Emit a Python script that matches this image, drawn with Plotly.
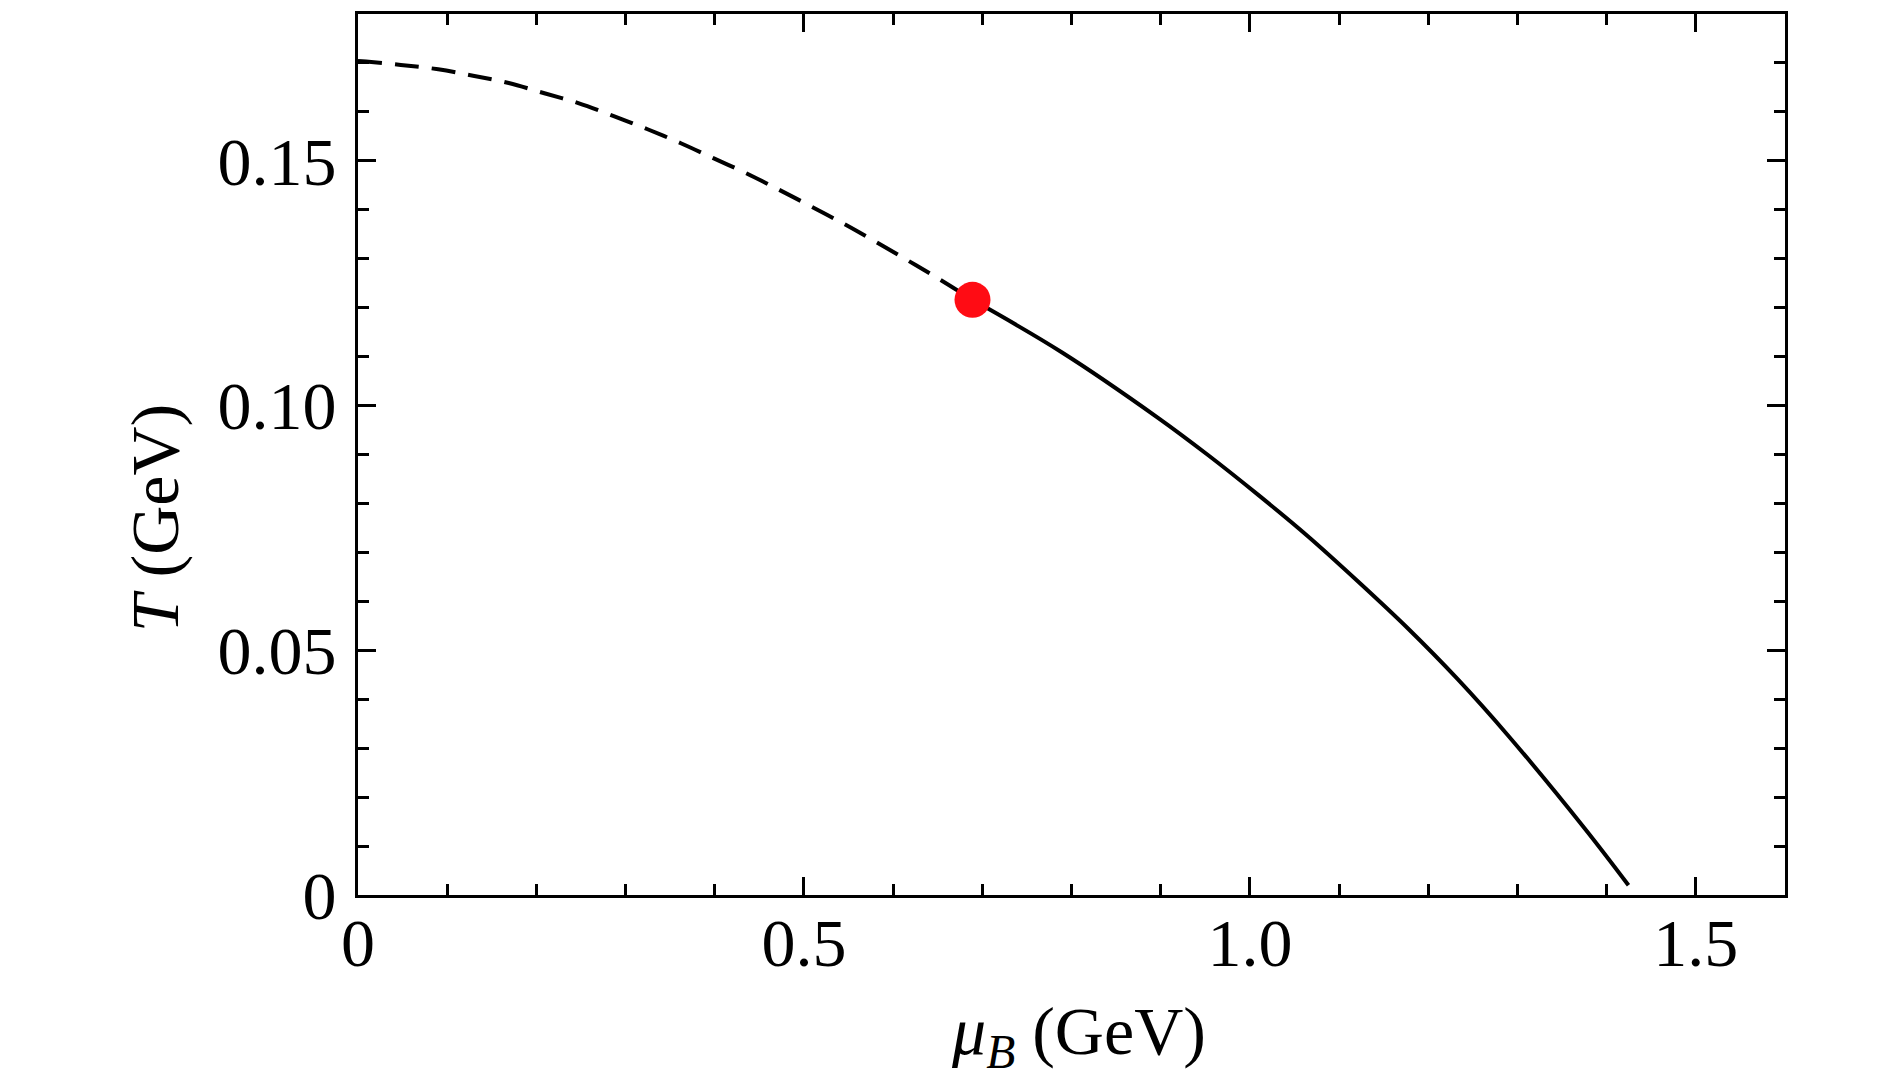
import plotly.graph_objects as go

# phase boundary (GeV)
mu_crossover = [0.0, 0.009, 0.048, 0.090, 0.129, 0.169, 0.209, 0.247, 0.286, 0.324,
                0.362, 0.399, 0.435, 0.472, 0.508, 0.545, 0.580, 0.616, 0.652, 0.689]
T_crossover = [0.1704, 0.1703, 0.1696, 0.1687, 0.1674, 0.1659, 0.1638, 0.1618, 0.1592, 0.1565,
               0.1536, 0.1505, 0.1475, 0.1441, 0.1407, 0.1371, 0.1335, 0.1297, 0.1258, 0.1216]

mu_first_order = [0.689, 0.789, 0.897, 0.953, 1.009, 1.065, 1.121, 1.177,
                  1.233, 1.289, 1.375, 1.4245]
T_first_order = [0.1216, 0.1109, 0.0975, 0.0899, 0.0818, 0.0733, 0.0641, 0.0545,
                 0.0441, 0.0327, 0.0137, 0.0020]

mu_cep = [0.689]
T_cep = [0.1216]

x_ticks = [0, 0.5, 1.0, 1.5]
x_labels = ["0", "0.5", "1.0", "1.5"]
y_ticks = [0, 0.05, 0.10, 0.15]
y_labels = ["0", "0.05", "0.10", "0.15"]

FONT = "Liberation Serif, Times New Roman, serif"
FS = 68

fig = go.Figure()
fig.add_trace(go.Scatter(x=mu_crossover, y=T_crossover, mode="lines",
                         line=dict(color="black", width=4, dash="24px,13px", shape="spline")))
fig.add_trace(go.Scatter(x=mu_first_order, y=T_first_order, mode="lines",
                         line=dict(color="black", width=4, shape="spline")))
fig.add_trace(go.Scatter(x=mu_cep, y=T_cep, mode="markers",
                         marker=dict(color="rgb(255,12,20)", size=36, line=dict(width=0))))

axis_style = dict(showline=True, linecolor="black", linewidth=3, mirror="ticks",
                  ticks="inside", ticklen=18, tickwidth=3, tickcolor="black",
                  showgrid=False, zeroline=False, tickfont=dict(family=FONT, size=FS, color="black"))

fig.update_xaxes(range=[0, 1.6], tickvals=x_ticks, ticktext=x_labels,
                 minor=dict(dtick=0.1, tick0=0, ticks="inside", ticklen=11, tickwidth=3, tickcolor="black"),
                 ticklabelstandoff=-14, **axis_style)
fig.update_yaxes(range=[0, 0.18], tickvals=y_ticks, ticktext=y_labels,
                 minor=dict(dtick=0.01, tick0=0, ticks="inside", ticklen=11, tickwidth=3, tickcolor="black"),
                 ticklabelstandoff=5, **axis_style)

# axis titles as annotations (the y title sits below the plot centre in the original)
fig.add_annotation(text="<i>μ</i><sub><i>B</i></sub> (GeV)", xref="paper", yref="paper",
                   x=0.505, y=-0.160, xanchor="center", yanchor="middle", showarrow=False,
                   font=dict(family=FONT, size=FS, color="black"))
fig.add_annotation(text="<i>T</i> (GeV)", xref="paper", yref="paper", textangle=-90,
                   x=-0.142, y=0.428, xanchor="center", yanchor="middle", showarrow=False,
                   font=dict(family=FONT, size=FS, color="black"))

fig.update_layout(width=1890, height=1082, showlegend=False,
                  margin=dict(l=350, r=113, t=6, b=195, autoexpand=False),
                  plot_bgcolor="white", paper_bgcolor="white")
fig.write_html("out.html")
